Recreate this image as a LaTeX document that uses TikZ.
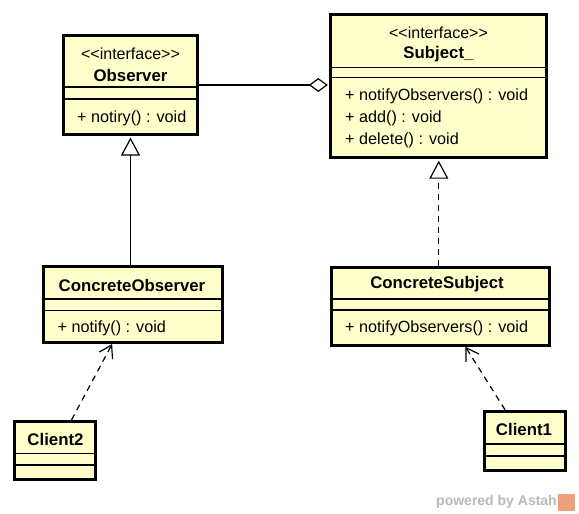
\documentclass[tikz,border=0pt]{standalone}
\usepackage{fontspec}
\setmainfont{Liberation Sans}[Ligatures=TeXOff]
\usepackage{xcolor}
\usetikzlibrary{positioning,arrows.meta,calc}
\definecolor{classyellow}{RGB}{255,255,204}
\definecolor{markgray}{RGB}{185,185,185}
\definecolor{markorange}{RGB}{240,160,120}

\begin{document}
\begin{tikzpicture}[
  x=1pt, y=-1pt,
  cls/.style={draw, fill=classyellow, line width=3pt, inner sep=0pt},
  stereo/.style={font=\fontsize{16}{18}\selectfont, inner sep=0pt},
  title/.style={font=\fontsize{16.8}{18}\selectfont\bfseries, inner sep=0pt},
  op/.style={font=\fontsize{16.2}{18}\selectfont, inner sep=0pt, anchor=west},
  sep/.style={line width=1.3pt},
  assoc/.style={line width=1.2pt, shorten >=1.5pt, -{Diamond[open, length=19pt, width=14pt]}},
  inherit/.style={line width=1.2pt, shorten >=1.5pt, -{Triangle[open, length=18pt, width=19pt]}},
  realize/.style={inherit, dash pattern=on 6pt off 5pt},
  depend/.style={line width=1.2pt, dash pattern=on 6pt off 5pt, -{Straight Barb[length=12pt, width=15pt]}}]

\useasboundingbox[fill=white] (0,0) rectangle (579,514);

% interfaces
\node[cls, minimum width=134pt, minimum height=99pt] (obs) at (130.5,85) {};
\node[stereo] (obs-st) at (130.5,54) {<<interface>>};
\node[title] (obs-nm) at (130.5,75) {Observer};
\draw[sep] (obs.west |- 0,87) -- (obs.east |- 0,87);
\draw[sep] (obs.west |- 0,99) -- (obs.east |- 0,99);
\node[op] (obs-op) at (77,118) {+ notiry() : void};

\node[cls, minimum width=216pt, minimum height=143pt] (subj) at (438.8,86.2) {};
\node[stereo] (subj-st) at (438.5,32.5) {<<interface>>};
\node[title] (subj-nm) at (438.5,54.5) {Subject\_};
\draw[sep] (subj.west |- 0,67.3) -- (subj.east |- 0,67.3);
\draw[sep] (subj.west |- 0,77.7) -- (subj.east |- 0,77.7);
\node[op] (subj-op1) at (345,96) {+ notifyObservers() : void};
\node[op] (subj-op2) at (345,118) {+ add() : void};
\node[op] (subj-op3) at (345,140) {+ delete() : void};

% concrete classes
\node[cls, minimum width=179pt, minimum height=76pt] (cobs) at (133.2,304.5) {};
\node[title] (cobs-nm) at (132,285) {ConcreteObserver};
\draw[sep] (cobs.west |- 0,299) -- (cobs.east |- 0,299);
\draw[sep] (cobs.west |- 0,310.7) -- (cobs.east |- 0,310.7);
\node[op] (cobs-op) at (57.5,328) {+ notify() : void};

\node[cls, minimum width=218pt, minimum height=78pt] (csubj) at (440,306.3) {};
\node[title] (csubj-nm) at (437,284.5) {ConcreteSubject};
\draw[sep] (csubj.west |- 0,299) -- (csubj.east |- 0,299);
\draw[sep] (csubj.west |- 0,310) -- (csubj.east |- 0,310);
\node[op] (csubj-op) at (345,328) {+ notifyObservers() : void};

% clients
\node[cls, minimum width=81pt, minimum height=58pt] (cl2) at (55.3,450.3) {};
\node[title] (cl2-nm) at (55.5,439) {Client2};
\draw[sep] (cl2.west |- 0,453.3) -- (cl2.east |- 0,453.3);
\draw[sep] (cl2.west |- 0,465) -- (cl2.east |- 0,465);

\node[cls, minimum width=81pt, minimum height=59pt] (cl1) at (524.5,440.8) {};
\node[title] (cl1-nm) at (524,429) {Client1};
\draw[sep] (cl1.west |- 0,444) -- (cl1.east |- 0,444);
\draw[sep] (cl1.west |- 0,456) -- (cl1.east |- 0,456);

% relations
\draw[assoc] (obs.east) -- (obs.east -| subj.west);
\draw[inherit] (cobs.north -| obs.south) -- (obs.south);
\draw[realize] (csubj.north -| subj.south) -- (subj.south);
\draw[depend] (cl2) -- (cobs);
\draw[depend] (cl1) -- (csubj);

\node[font=\fontsize{14}{16}\selectfont\bfseries, text=markgray, anchor=east, inner sep=0pt] (brand) at (557,502) {powered by Astah};
\node[fill=markorange, minimum size=17pt, inner sep=0pt, right=1pt of brand] (logo) {};
\end{tikzpicture}
\end{document}
